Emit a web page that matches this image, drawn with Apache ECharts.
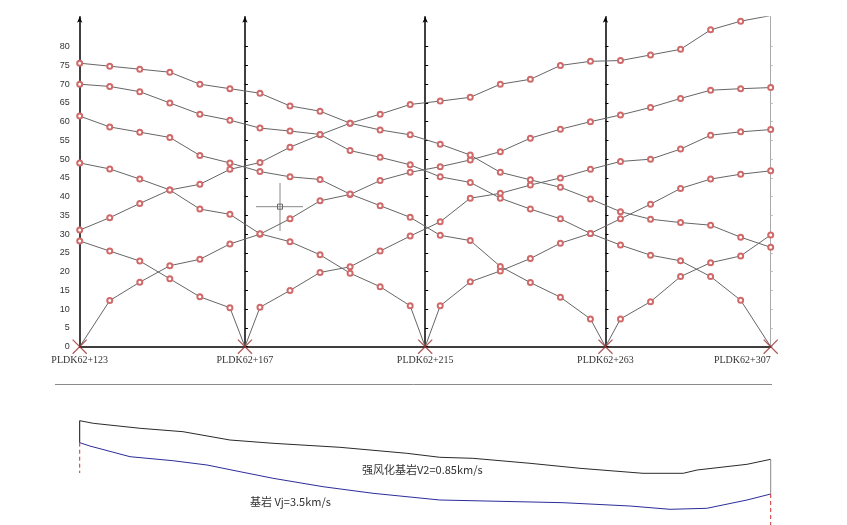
<!DOCTYPE html>
<html><head><meta charset="utf-8">
<script src="https://cdn.jsdelivr.net/npm/echarts@6/dist/echarts.min.js"></script>
<style>html,body{margin:0;padding:0;background:#fff}#c{width:847px;height:525px}</style>
</head><body><div id="c"></div>
<script>
// ---------- data ----------
const stations = [123,131,139,147,155,163,171,179,187,195,203,211,219,227,235,243,251,259,267,275,283,291,299,307];
const shots = [123,167,215,263,307];
const shotPrefix = 'PLDK62+';
const yTickValues = [0,5,10,15,20,25,30,35,40,45,50,55,60,65,70,75,80];

// travel times (ms) at each geophone
const curveOffsetLeft  = [31.1,34.4,38.2,41.8,43.3,47.3,49.1,53.2,56.5,59.6,62.0,64.6,65.5,66.5,70.0,71.3,75.0,76.1,76.3,77.8,79.3,84.5,86.8,88.3];
const curveShot123     = [0,12.3,17.2,21.6,23.3,27.4,30.0,34.1,38.9,40.6,44.3,46.5,48.0,49.8,52.0,55.6,58.0,60.0,61.8,63.8,66.2,68.4,68.8,69.1];
const curveShot167     = [28.2,25.5,22.85,18.1,13.3,10.4,10.5,15.0,19.8,21.3,25.5,29.5,33.3,39.6,40.9,43.1,45.0,47.3,49.4,50.0,52.7,56.4,57.3,57.9];
const curveShot215     = [49.0,47.4,44.7,41.8,36.7,35.3,30.1,28.0,24.5,19.6,16.0,10.9,10.9,17.3,20.2,23.5,27.6,30.2,34.1,38.0,42.2,44.7,46.0,46.9];
const curveShot263     = [61.5,58.6,57.2,55.8,51.0,49.0,46.7,45.3,44.6,40.7,37.6,34.5,29.7,28.3,21.4,17.1,13.2,7.4,7.4,12.0,18.7,22.4,24.2,29.8];
const curveShot307     = [70.0,69.4,68.0,65.0,62.0,60.4,58.3,57.5,56.6,52.3,50.5,48.5,45.3,43.8,39.6,36.7,34.1,30.2,27.1,24.4,22.9,18.7,12.4,0];
const curveOffsetRight = [75.6,74.8,74.0,73.2,70.0,68.8,67.6,64.2,62.8,59.6,57.8,56.5,54.0,51.1,46.5,44.5,42.5,39.4,36.0,34.0,33.1,32.4,29.2,26.5];

// interpreted profile (depth, arbitrary units)
const weatheredStations = [123,126.6,139.1,150.5,163.0,174.5,192.3,210.1,218.9,227.7,242.9,256.2,273.0,283.7,287.4,300.7,307];
const weatheredDepth    = [5.14,5.66,6.66,7.34,9.0,9.66,10.46,11.66,12.46,12.66,13.66,14.66,15.66,15.66,15.0,13.86,12.86];
const bedrockStations   = [123,125.7,136.4,147.8,156.9,165.7,174.5,187.8,201.1,218.9,251.7,269.5,280.2,290.0,300.7,307];
const bedrockDepth      = [9.54,10.2,12.34,13.14,14.0,15.34,16.66,18.34,19.66,21.0,21.54,22.2,22.86,22.66,21.0,19.8];
const boreholeBottom    = [15.6, 26];
const weatheredText = '强风化基岩V2=0.85km/s';
const bedrockText   = '基岩 Vj=3.5km/s';

// ---------- chart ----------
const GL = 79.7, GR = 76.3, W = 847;
const gridW = W - GL - GR;
const xMin = shots[0], xMax = shots[shots.length-1];

function curveData(vals, shot) {
  const pts = stations.map((s,i)=>[s, vals[i]]);
  if (shot !== undefined && stations.indexOf(shot) < 0) pts.push([shot, 0]);
  pts.sort((a,b)=>a[0]-b[0]);
  return pts.map(p => (shot !== undefined && p[0] === shot) ? {value:p, symbol:'none'} : p);
}

const curves = [
  {v: curveOffsetLeft},
  {v: curveShot123, s: 123},
  {v: curveShot167, s: 167},
  {v: curveShot215, s: 215},
  {v: curveShot263, s: 263},
  {v: curveShot307, s: 307},
  {v: curveOffsetRight}
];

const lblFont = {fontFamily:'Liberation Sans', fontSize:9, color:'#333'};

const yAxes = [];
yAxes.push({
  type:'value', gridIndex:0, min:0, max:88, position:'left',
  axisLine:{show:true, onZero:false, lineStyle:{color:'#000', width:1.5}, symbol:['none','arrow'], symbolSize:[4,6]},
  axisTick:{show:false},
  axisLabel:Object.assign({customValues:yTickValues, margin:10}, lblFont),
  splitLine:{show:false}
});
[167,215,263].forEach(s=>{
  yAxes.push({
    type:'value', gridIndex:0, min:0, max:88, position:'left',
    offset: -(s - xMin)/(xMax - xMin)*gridW,
    axisLine:{show:true, onZero:false, lineStyle:{color:'#000', width:1.5}, symbol:['none','arrow'], symbolSize:[4,6]},
    axisTick:{show:true, inside:true, length:3, customValues:yTickValues, lineStyle:{color:'#000'}},
    axisLabel:{show:false}, splitLine:{show:false}
  });
});
yAxes.push({
  type:'value', gridIndex:0, min:0, max:88, position:'right',
  axisLine:{show:true, onZero:false, lineStyle:{color:'#aaa', width:1}},
  axisTick:{show:true, length:2, customValues:yTickValues, lineStyle:{color:'#bbb'}},
  axisLabel:{show:false}, splitLine:{show:false}
});
yAxes.push({
  type:'value', gridIndex:1, min:0, max:26, inverse:true, show:false
});

const series = [];
curves.forEach(c=>{
  series.push({
    type:'line', xAxisIndex:0, yAxisIndex:0,
    data: curveData(c.v, c.s),
    symbol:'emptyCircle', symbolSize:5,
    itemStyle:{color:'#d06a6a', borderWidth:0.9},
    lineStyle:{color:'#666', width:1},
    z:3
  });
});
series.push({
  type:'scatter', xAxisIndex:0, yAxisIndex:0,
  data: shots.map(s=>[s,0]),
  symbol:'path://M0,0.6L0.6,0L10,9.4L9.4,10Z M9.4,0L10,0.6L0.6,10L0,9.4Z',
  symbolSize:15,
  itemStyle:{color:'#9a3030'},
  z:4
});
// profile
series.push({
  type:'line', xAxisIndex:1, yAxisIndex:5, symbol:'none',
  data: weatheredStations.map((s,i)=>[s, weatheredDepth[i]]),
  lineStyle:{color:'#2a2a2a', width:1}
});
series.push({
  type:'line', xAxisIndex:1, yAxisIndex:5, symbol:'none',
  data: bedrockStations.map((s,i)=>[s, bedrockDepth[i]]),
  lineStyle:{color:'#2c2c9a', width:1}
});
series.push({
  type:'line', xAxisIndex:1, yAxisIndex:5, symbol:'none',
  data: [[xMin, weatheredDepth[0]],[xMin, bedrockDepth[0]]],
  lineStyle:{color:'#111', width:1}
});
series.push({
  type:'line', xAxisIndex:1, yAxisIndex:5, symbol:'none',
  data: [[xMax, weatheredDepth[weatheredDepth.length-1]],[xMax, bedrockDepth[bedrockDepth.length-1]]],
  lineStyle:{color:'#888', width:1}
});
series.push({
  type:'line', xAxisIndex:1, yAxisIndex:5, symbol:'none',
  data: [[xMin, bedrockDepth[0]],[xMin, boreholeBottom[0]]],
  lineStyle:{color:'#d03030', width:1, type:[4,3]}
});
series.push({
  type:'line', xAxisIndex:1, yAxisIndex:5, symbol:'none',
  data: [[xMax, bedrockDepth[bedrockDepth.length-1]],[xMax, boreholeBottom[1]]],
  lineStyle:{color:'#d03030', width:1, type:[4,3]}
});

const option = {
  animation:false,
  backgroundColor:'#fff',
  grid:[
    {left:GL, right:GR, top:16.7, height:330, outerBoundsMode:'none'},
    {left:GL, right:GR, top:395, height:130, outerBoundsMode:'none'}
  ],
  xAxis:[
    {type:'value', gridIndex:0, min:xMin, max:xMax,
     axisLine:{show:true, onZero:false, lineStyle:{color:'#000', width:1.5}},
     axisTick:{show:false}, splitLine:{show:false},
     axisLabel:Object.assign({customValues:shots, margin:9, formatter:v=>shotPrefix+v, alignMaxLabel:'right'}, lblFont, {fontFamily:'Liberation Serif', fontSize:10})
    },
    {type:'value', gridIndex:1, min:xMin, max:xMax, show:false}
  ],
  yAxis: yAxes,
  series: series,
  graphic:[
    {type:'line', shape:{x1:55, y1:384.5, x2:772, y2:384.5}, style:{stroke:'#8a8a8a', lineWidth:1}},
    {type:'text', left:362, top:464, style:{text:weatheredText, font:'11px "Noto Sans CJK SC"', fill:'#333'}},
    {type:'text', left:250, top:496, style:{text:bedrockText, font:'11px "Noto Sans CJK SC"', fill:'#333'}},
    // cursor artifact
    {type:'line', shape:{x1:256, y1:206.7, x2:303, y2:206.7}, style:{stroke:'#888', lineWidth:1}},
    {type:'line', shape:{x1:280, y1:183, x2:280, y2:231}, style:{stroke:'#888', lineWidth:1}},
    {type:'rect', shape:{x:277.5, y:204.2, width:5, height:5}, style:{stroke:'#666', fill:'none', lineWidth:1}}
  ]
};
const chart = echarts.init(document.getElementById('c'), null, {renderer:'canvas'});
chart.setOption(option);
</script>
</body></html>
